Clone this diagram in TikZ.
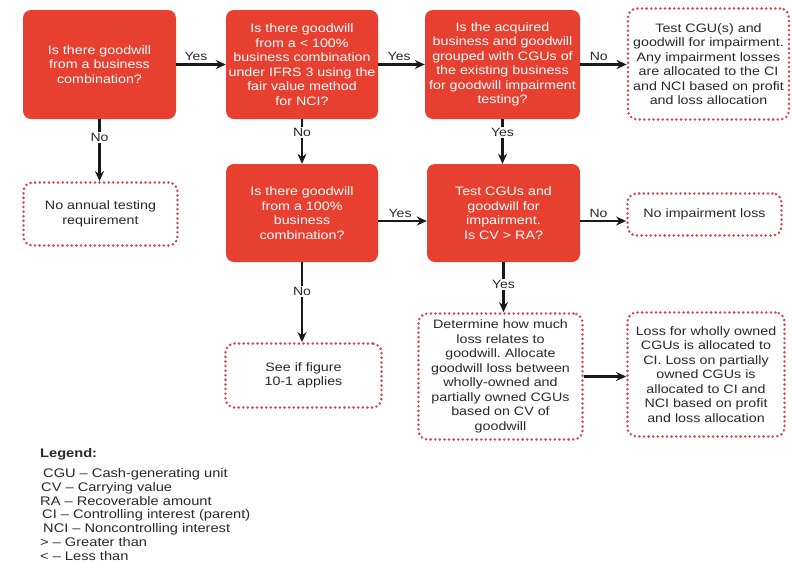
\documentclass[tikz,border=0pt]{standalone}
\usepackage{fontspec}
\setmainfont[FakeStretch=1.17]{Liberation Sans}
\usetikzlibrary{arrows.meta,calc}
\definecolor{boxred}{RGB}{232,64,48}
\definecolor{dotred}{RGB}{210,72,80}
\definecolor{txt}{RGB}{40,40,48}
\begin{document}
\frenchspacing
\begin{tikzpicture}[x=1pt,y=-1pt,
  boxfont/.style={font=\fontsize{12.2}{14.5}\selectfont},
  redbox/.style={boxfont, fill=boxred, rounded corners=8pt, text=white, align=center, inner sep=0pt},
  dotbox/.style={boxfont, draw=dotred, line width=2.8pt, dash pattern=on 0pt off 4.6pt, line cap=round, rounded corners=9pt, text=txt, align=center, inner sep=0pt},
  arr/.style={draw=black!90, line width=2.2pt, -{Stealth[length=10pt,width=9pt]}},
  lab/.style={font=\fontsize{12}{14}\selectfont, text=txt, inner sep=1.5pt},
  vlab/.style={lab, fill=white},
  legline/.style={anchor=base west, font=\fontsize{12.5}{14}\selectfont, text=txt, inner sep=0pt},
]
\useasboundingbox[fill=white] (0,0) rectangle (792,571);

% top row
\node[redbox, minimum width=153pt, minimum height=109pt] (b1) at (99.5,64.5)
  {Is there goodwill\\from a business\\combination?};
\node[redbox, minimum width=152pt, minimum height=109pt] (b2) at (302,64.5)
  {Is there goodwill\\from a < 100\%\\business combination\\under IFRS 3 using the\\fair value method\\for NCI?};
\node[redbox, minimum width=155pt, minimum height=109pt] (b3) at (502.5,64.5)
  {Is the acquired\\business and goodwill\\grouped with CGUs of\\the existing business\\for goodwill impairment\\testing?};
\node[dotbox, minimum width=161pt, minimum height=111pt] (b4) at (708.5,64)
  {Test CGU(s) and\\goodwill for impairment.\\Any impairment losses\\are allocated to the CI\\and NCI based on profit\\and loss allocation};

% middle row
\node[dotbox, minimum width=154pt, minimum height=63pt] (b5) at (100.5,214)
  {No annual testing\\requirement};
\node[redbox, minimum width=152pt, minimum height=98pt] (b6) at (302,213)
  {Is there goodwill\\from a 100\%\\business\\combination?};
\node[redbox, minimum width=153pt, minimum height=98pt] (b7) at (503.5,213)
  {Test CGUs and\\goodwill for\\impairment.\\Is CV > RA?};
\node[dotbox, minimum width=154pt, minimum height=42pt] (b8) at (704.5,214.5)
  {No impairment loss};

% bottom row
\node[dotbox, minimum width=156pt, minimum height=64pt] (b9) at (303.5,375.5)
  {See if figure\\10-1 applies};
\node[dotbox, minimum width=164pt, minimum height=126pt] (b10) at (500.5,376.5)
  {Determine how much\\loss relates to\\goodwill. Allocate\\goodwill loss between\\wholly-owned and\\partially owned CGUs\\based on CV of\\goodwill};
\node[dotbox, minimum width=157pt, minimum height=124pt] (b11) at (706,374.5)
  {Loss for wholly owned\\CGUs is allocated to\\CI. Loss on partially\\owned CGUs is\\allocated to CI and\\NCI based on profit\\and loss allocation};

% connectors
\draw[arr] (b1) -- node[lab, above=1pt, pos=0.4]{Yes} (b2);
\draw[arr] (b2) -- node[lab, above=1pt, pos=0.45]{Yes} (b3);
\draw[arr] (b3.east) -- node[lab, above=1pt, pos=0.4]{No} (b3.east -| b4.west);
\draw[arr] (b1.south) -- node[vlab, pos=0.3]{No} (b1.south |- b5.north);
\draw[arr] (b2.south) -- node[vlab, pos=0.3]{No} (b6.north);
\draw[arr] (b3.south) -- node[vlab, pos=0.3]{Yes} (b3.south |- b7.north);
\coordinate (m1) at ($(b6.east)+(0,8)$);
\coordinate (m2) at ($(b7.east)+(0,8)$);
\draw[arr] (m1) -- node[lab, above=1pt, pos=0.45]{Yes} (m1 -| b7.west);
\draw[arr] (m2) -- node[lab, above=1pt, pos=0.4]{No} (m2 -| b8.west);
\draw[arr] (b6.south) -- node[vlab, pos=0.37]{No} (b6.south |- b9.north);
\draw[arr] (b7.south) -- node[vlab, pos=0.45]{Yes} (b7.south |- b10.north);
\draw[arr] (b10.east) -- (b10.east -| b11.west);

% legend
\node[legline, font=\fontsize{12.5}{14}\selectfont\bfseries] (lg) at (40,457) {Legend:};
\node[legline] (l1) at (43,477) {CGU – Cash-generating unit};
\node[legline] (l2) at (41,491) {CV – Carrying value};
\node[legline] (l3) at (40,505) {RA – Recoverable amount};
\node[legline] (l4) at (42,518) {CI – Controlling interest (parent)};
\node[legline] (l5) at (43,532) {NCI – Noncontrolling interest};
\node[legline] (l6) at (40,546) {> – Greater than};
\node[legline] (l7) at (40,560) {< – Less than};
\end{tikzpicture}
\end{document}
